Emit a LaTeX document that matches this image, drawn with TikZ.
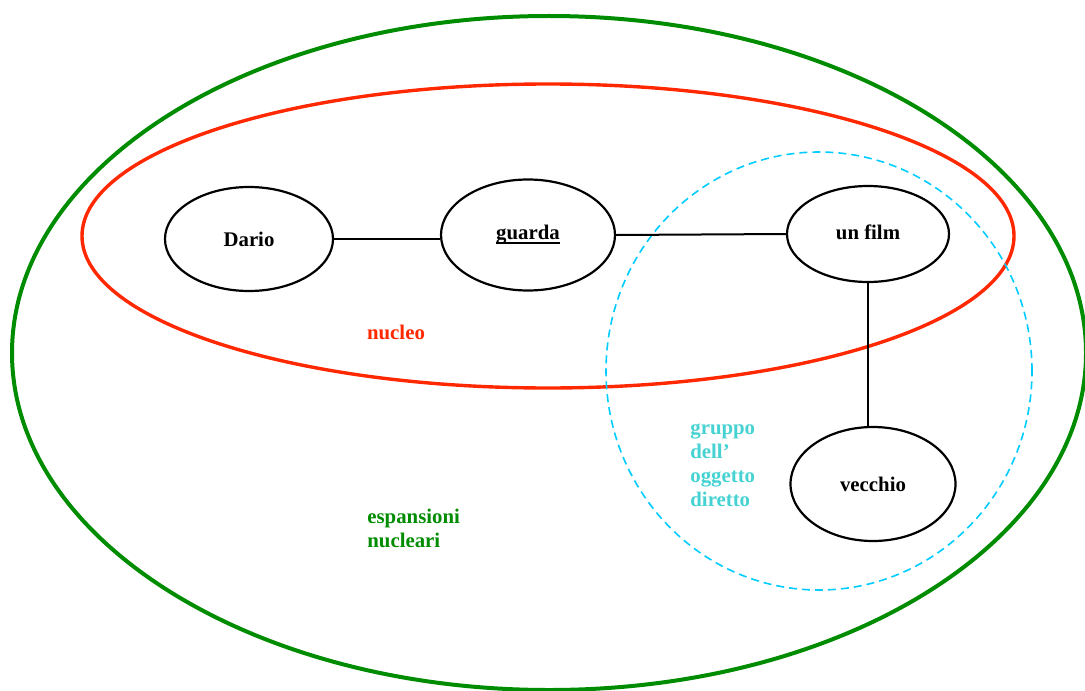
\documentclass[tikz,border=0pt]{standalone}
\usepackage{fontspec}
\setmainfont{Liberation Serif}
\usepackage{tikz}
\usetikzlibrary{arrows,positioning,shapes.geometric}
\definecolor{espgreen}{RGB}{0,140,0}
\definecolor{nucred}{RGB}{255,40,0}
\definecolor{grpcyan}{RGB}{0,204,255}
\definecolor{grptext}{RGB}{70,210,210}
\newlength{\sottolen}
\newcommand{\sottolinea}[1]{\settowidth{\sottolen}{#1}\rlap{#1}\rule[-1.9pt]{\sottolen}{1pt}}

\begin{document}
\begin{tikzpicture}[x=0.5pt,y=-0.5pt,
        word/.style={ellipse,draw,line width=1.1pt,inner sep=0pt,
                     font=\fontsize{10.4}{12.5}\selectfont\bfseries},
        label/.style={inner sep=0pt,align=left,
                     font=\fontsize{10.4}{12}\selectfont\bfseries}]
        \useasboundingbox (0,0) rectangle (1085,690);
        % insiemi
        \draw[espgreen,line width=2pt] (549,353) ellipse [x radius=268.5pt,y radius=168.5pt];
        \draw[nucred,line width=1.7pt] (548,236) ellipse [x radius=233pt,y radius=76pt];
        \draw[grpcyan,line width=0.8pt,dash pattern=on 4pt off 2.5pt] (819,371) ellipse [x radius=106.5pt,y radius=109.5pt];
        % parole
        \node[word,minimum width=84pt,minimum height=52pt] (1) at (249,239) {Dario};
        \node[word,minimum width=87pt,minimum height=55.5pt] (2) at (528,235) {\sottolinea{guarda}};
        \node[word,minimum width=81pt,minimum height=48pt] (3) at (868,234) {\raisebox{1.5pt}{un film}};
        \node[word,minimum width=82.5pt,minimum height=57pt] (4) at (873,484) {vecchio};
        \draw[line width=1pt] (1.east) -- (1.east -| 2.west);
        \draw[line width=1pt] (2.east) -- (3.west);
        \draw[line width=1pt] (3.south) -- (3.south |- 4.north);
        % etichette
        \node[label,text=nucred] (nucleo) at (396,332) {nucleo};
        \node[label,text=espgreen,anchor=north west] (espansioni) at (367,509) {espansioni\\nucleari};
        \node[label,text=grptext,anchor=north west] (gruppo) at (690,423) {gruppo\\dell’\\oggetto\\diretto};
    \end{tikzpicture}
\end{document}
